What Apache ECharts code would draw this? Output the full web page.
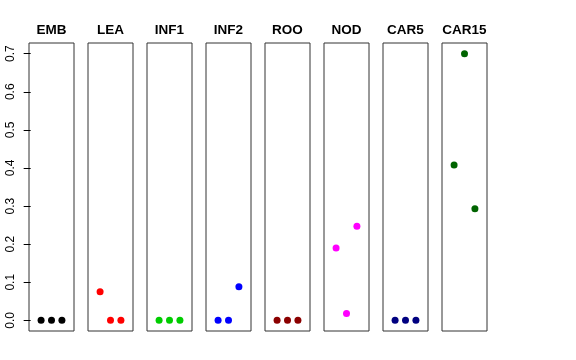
<!DOCTYPE html>
<html>
<head>
<meta charset="utf-8">
<script src="https://cdn.jsdelivr.net/npm/echarts@6/dist/echarts.min.js"></script>
<style>
html,body{margin:0;padding:0;background:#fff;}
#chart{width:576px;height:360px;}
</style>
</head>
<body>
<div id="chart"></div>
<script>
// Data
const panels = ['EMB', 'LEA', 'INF1', 'INF2', 'ROO', 'NOD', 'CAR5', 'CAR15'];
const xPositions = [1, 2, 3];
const EMB = [0, 0, 0];
const LEA = [0.075, 0, 0];
const INF1 = [0, 0, 0];
const INF2 = [0, 0, 0.088];
const ROO = [0, 0, 0];
const NOD = [0.19, 0.018, 0.247];
const CAR5 = [0, 0, 0];
const CAR15 = [0.408, 0.70, 0.293];
const seriesValues = [EMB, LEA, INF1, INF2, ROO, NOD, CAR5, CAR15];
const panelColors = ['#000000', '#FF0000', '#00CD00', '#0000FF', '#8B0000', '#FF00FF', '#000080', '#006400'];
const yTicks = [0, 0.1, 0.2, 0.3, 0.4, 0.5, 0.6, 0.7];

(function () {
const chart = echarts.init(document.getElementById('chart'), null, {renderer: 'canvas'});

const grids = [], xAxes = [], yAxes = [], series = [], titles = [];
const left0 = 29, step = 59, pw = 45, ptop = 43, ph = 288;
panels.forEach((name, i) => {
  const pleft = left0 + step * i;
  grids.push({
    left: pleft, top: ptop, width: pw, height: ph,
    show: true, borderColor: '#333', borderWidth: 1, backgroundColor: 'transparent'
  });
  xAxes.push({
    gridIndex: i, type: 'value', min: -0.16, max: 4.16,
    show: false
  });
  yAxes.push({
    gridIndex: i, type: 'value', min: -0.028, max: 0.728,
    axisLine: {show: false},
    splitLine: {show: false},
    axisTick: {show: i === 0, length: 7, lineStyle: {color: '#000', width: 1}, customValues: yTicks},
    axisLabel: {
      show: i === 0, rotate: 90, margin: 12, customValues: yTicks,
      fontFamily: 'Liberation Sans', fontSize: 12, color: '#000',
      formatter: v => v.toFixed(1)
    }
  });
  series.push({
    type: 'scatter', xAxisIndex: i, yAxisIndex: i,
    symbol: 'circle', symbolSize: 7,
    itemStyle: {color: panelColors[i], opacity: 1},
    data: xPositions.map((x, k) => [x, seriesValues[i][k]]),
    silent: true
  });
  titles.push({
    text: name,
    left: pleft + pw / 2, top: 23, textAlign: 'center', padding: 0,
    textStyle: {fontFamily: 'Liberation Sans', fontWeight: 'bold', fontSize: 13.5, color: '#000'}
  });
});

chart.setOption({
  animation: false,
  backgroundColor: '#fff',
  title: titles,
  grid: grids,
  xAxis: xAxes,
  yAxis: yAxes,
  series: series
});
})();
</script>
</body>
</html>
